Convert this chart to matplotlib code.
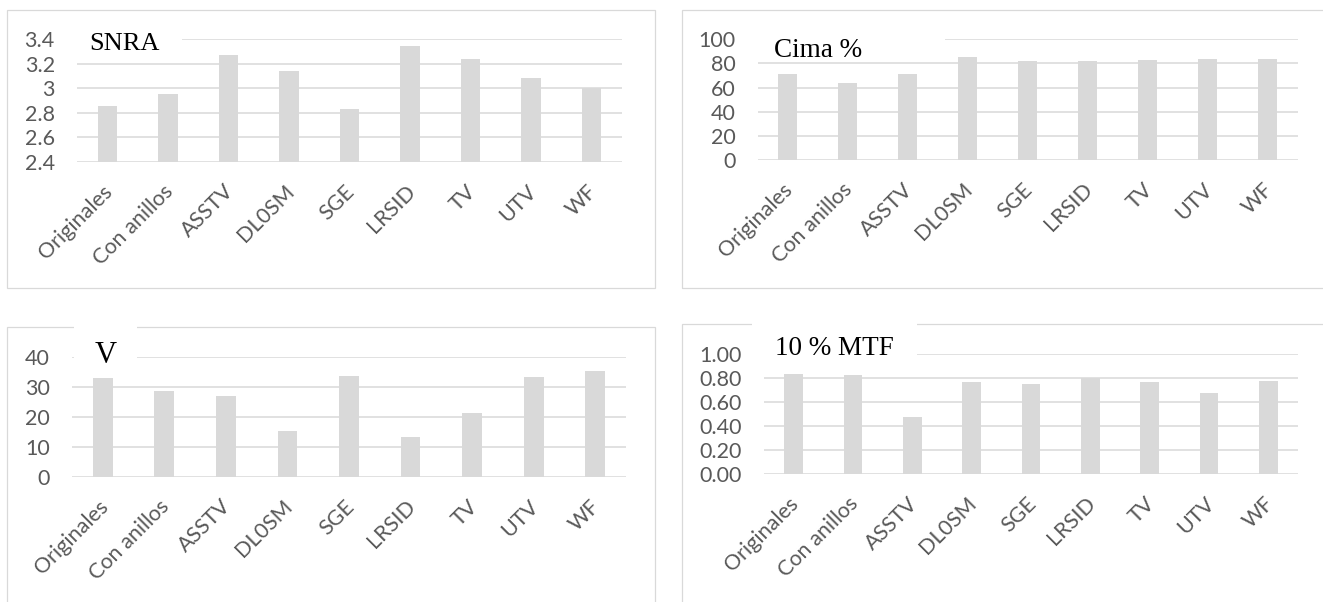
import numpy as np
import matplotlib
matplotlib.use("Agg")
import matplotlib.pyplot as plt
from matplotlib.patches import Rectangle
from matplotlib.ticker import FuncFormatter, MultipleLocator
from matplotlib.transforms import ScaledTranslation

# datos
categories = ["Originales", "Con anillos", "ASSTV", "DL0SM", "SGE", "LRSID", "TV", "UTV", "WF"]
snra = [2.85, 2.95, 3.27, 3.14, 2.83, 3.34, 3.24, 3.08, 3.00]
cima = [71.3, 64.1, 71.3, 85.6, 82.0, 81.8, 82.6, 83.4, 83.4]
v_vals = [32.8, 28.6, 26.9, 15.2, 33.7, 13.3, 21.1, 33.1, 35.3]
mtf = [0.835, 0.824, 0.474, 0.766, 0.755, 0.800, 0.766, 0.678, 0.774]

W, H = 1323, 602
GRAY = "#d9d9d9"
TICK = "#595959"

fig = plt.figure(figsize=(W / 100, H / 100), dpi=100)


def px_rect(x0, x1, y0, y1):
    return [x0 / W, 1 - y1 / H, (x1 - x0) / W, (y1 - y0) / H]


def add_rect(x0, x1, y0, y1, **kw):
    r = Rectangle((x0 / W, 1 - y1 / H), (x1 - x0) / W, (y1 - y0) / H,
                  transform=fig.transFigure, **kw)
    fig.patches.append(r)


def panel(rect, values, ylim, step, fmt):
    ax = fig.add_axes(px_rect(*rect))
    x = np.arange(len(categories))
    ax.bar(x, values, width=0.32, color=GRAY, zorder=2)
    ax.set_xlim(-0.5, len(categories) - 0.5)
    ax.set_ylim(*ylim)
    ax.yaxis.set_major_locator(MultipleLocator(step))
    ax.yaxis.set_major_formatter(FuncFormatter(fmt))
    ax.set_axisbelow(True)
    ax.yaxis.grid(True, color=GRAY, lw=1.1, zorder=0)
    for s in ax.spines.values():
        s.set_visible(False)
    ax.set_xticks(x)
    ax.set_xticklabels(categories, rotation=45, ha="right", va="center",
                       rotation_mode="anchor")
    ax.tick_params(axis="both", length=0, labelsize=15.5, labelcolor=TICK)
    ax.tick_params(axis="y", pad=16)
    ax.tick_params(axis="x", pad=19)
    off = ScaledTranslation(1.5 / 72, 0, fig.dpi_scale_trans)
    for lab in ax.get_xticklabels():
        lab.set_transform(lab.get_transform() + off)
        lab.set_fontfamily(["Lato", "DejaVu Sans"])
    for lab in ax.get_yticklabels():
        lab.set_fontfamily(["Lato", "DejaVu Sans"])
    return ax


panel((77, 622, 39, 161.7), snra, (2.4, 3.4), 0.2, lambda v, p: "%g" % round(v, 1))
panel((757.5, 1297.5, 39.3, 160), cima, (0, 100), 20, lambda v, p: "%d" % v)
panel((72, 626, 356.7, 476.7), v_vals, (0, 40), 10, lambda v, p: "%d" % v)
panel((764, 1298, 354.3, 474.3), mtf, (0, 1.0), 0.2, lambda v, p: "%.2f" % v)

# marcos de cada grafico
add_rect(7.3, 655, 10, 287.7, fill=False, edgecolor=GRAY, lw=0.9, zorder=1)
add_rect(682, 1340, 10, 288, fill=False, edgecolor=GRAY, lw=0.9, zorder=1)
add_rect(7.3, 655, 327.3, 640, fill=False, edgecolor=GRAY, lw=0.9, zorder=1)
add_rect(682, 1340, 324.3, 640, fill=False, edgecolor=GRAY, lw=0.9, zorder=1)

# cuadros blancos de los titulos
add_rect(72, 181.7, 22, 55, facecolor="white", edgecolor="none", zorder=2)
add_rect(752, 945, 22, 55, facecolor="white", edgecolor="none", zorder=2)
add_rect(74, 137.3, 316, 363, facecolor="white", edgecolor="none", zorder=2)
add_rect(751.7, 916.7, 316, 360, facecolor="white", edgecolor="none", zorder=2)

serif = ["Liberation Serif", "DejaVu Serif"]
fig.text(89 / W, 1 - 50 / H, "SNRA", fontsize=19, family=serif, va="baseline", zorder=3)
fig.text(774 / W, 1 - 56.7 / H, "Cima %", fontsize=19.5, family=serif, va="baseline", zorder=3)
fig.text(95 / W, 1 - 363.3 / H, "V", fontsize=22, family=serif, va="baseline", zorder=3)
fig.text(775 / W, 1 - 355 / H, "10 % MTF", fontsize=19.5, family=serif, va="baseline", zorder=3)

fig.savefig("out.png", dpi=100, facecolor="white")
